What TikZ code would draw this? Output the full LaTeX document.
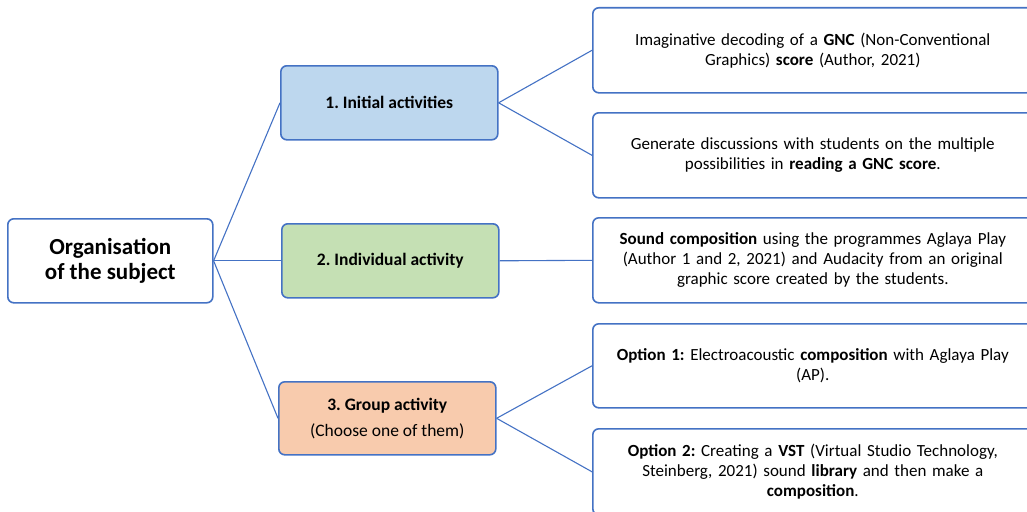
\documentclass[tikz,border=0pt]{standalone}
\usepackage{fontspec}
\setmainfont{Carlito}
\frenchspacing
\definecolor{lineblue}{HTML}{4472C4}
\definecolor{fillblue}{HTML}{BDD7EE}
\definecolor{fillgreen}{HTML}{C5E0B4}
\definecolor{fillorange}{HTML}{F8CBAD}
\tikzset{
  box/.style={draw=lineblue, line width=1.6pt, rounded corners=6pt, anchor=north west, inner sep=0pt, align=center},
  rootbox/.style={box, fill=white, font=\fontsize{23}{25}\selectfont\bfseries},
  midbox/.style={box, font=\fontsize{17.5}{19}\selectfont\bfseries},
  rightbox/.style={box, fill=white, text width=420pt, font=\fontsize{17}{20}\selectfont},
  conn/.style={draw=lineblue, line width=1.1pt}
}
\begin{document}
\begin{tikzpicture}[x=1pt,y=-1pt]
\useasboundingbox (0,0) rectangle (1027,511);
% root
\node[rootbox, minimum width=205pt, minimum height=84pt] (root) at (7,218) {Organisation\\of the subject};
% middle boxes
\node[midbox, fill=fillblue, minimum width=217pt, minimum height=74pt] (m1) at (280,65) {1. Initial activities};
\node[midbox, fill=fillgreen, minimum width=217pt, minimum height=74pt] (m2) at (281,223) {2. Individual activity};
\node[midbox, fill=fillorange, minimum width=217pt, minimum height=73pt] (m3) at (278,381) {3. Group activity\\[7pt]\mdseries (Choose one of them)};
% right boxes
\node[rightbox, minimum width=440pt, minimum height=85pt] (r1) at (592,7) {Imaginative decoding of a \textbf{GNC} (Non-Conventional\\Graphics) \textbf{score} (Author, 2021)};
\node[rightbox, minimum width=440pt, minimum height=85pt] (r2) at (592,112) {Generate discussions with students on the multiple\\possibilities in \textbf{reading a GNC score}.};
\node[rightbox, minimum width=440pt, minimum height=85pt] (r3) at (592,217) {\textbf{Sound composition} using the programmes Aglaya Play\\(Author 1 and 2, 2021) and Audacity from an original\\graphic score created by the students.};
\node[rightbox, minimum width=440pt, minimum height=84pt] (r4) at (592,323) {\textbf{Option 1:} Electroacoustic \textbf{composition} with Aglaya Play\\(AP).};
\node[rightbox, minimum width=440pt, minimum height=86pt] (r5) at (592,428) {\textbf{Option 2:} Creating a \textbf{VST} (Virtual Studio Technology,\\Steinberg, 2021) sound \textbf{library} and then make a\\\textbf{composition}.};
% connectors
\draw[conn] (root.east) -- (m1.west);
\draw[conn] (root.east) -- (m2.west);
\draw[conn] (root.east) -- (m3.west);
\draw[conn] (m1.east) -- (r1.west);
\draw[conn] (m1.east) -- (r2.west);
\draw[conn] (m2.east) -- (r3.west);
\draw[conn] (m3.east) -- (r4.west);
\draw[conn] (m3.east) -- (r5.west);
\end{tikzpicture}
\end{document}
